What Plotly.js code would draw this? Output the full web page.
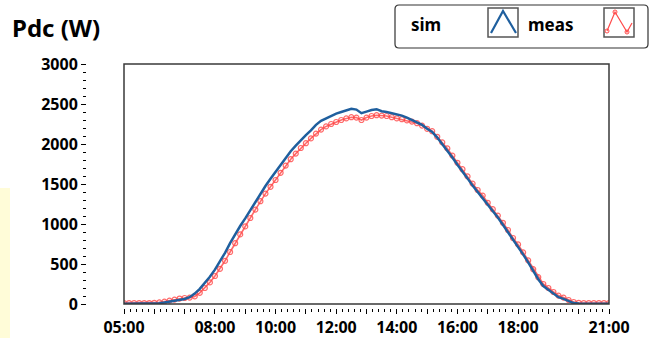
<!DOCTYPE html>
<html>
<head>
<meta charset="utf-8">
<script src="https://cdn.plot.ly/plotly-3.0.1.min.js"></script>
<style>html,body{margin:0;padding:0;background:#fff;}#chart{width:655px;height:338px;}</style>
</head>
<body>
<div id="chart"></div>
<script>
// ---- data (10-minute samples, 05:00 .. 21:00) ----
var startTime = "2024-01-01 05:00:00";
var stepMinutes = 10;

var simPdc = [
  2, 2, 2, 2, 2, 2,
  5, 10, 18, 28, 40, 52,
  62, 85, 130, 190, 260, 340,
  430, 530, 640, 760, 870, 975,
  1070, 1175, 1280, 1385, 1475, 1565,
  1650, 1740, 1830, 1910, 1980, 2050,
  2110, 2170, 2240, 2290, 2320, 2355,
  2380, 2400, 2425, 2440, 2430, 2385,
  2405, 2425, 2435, 2410, 2400, 2385,
  2370, 2355, 2330, 2300, 2275, 2240,
  2190, 2150, 2080, 2000, 1925, 1830,
  1740, 1660, 1570, 1480, 1400, 1330,
  1240, 1160, 1080, 990, 900, 800,
  720, 620, 520, 410, 310, 225,
  180, 130, 85, 65, 40, 12,
  5, 2, 2, 2, 2, 2,
  2
];

var measPdc = [
  12, 12, 12, 12, 12, 12,
  15, 20, 30, 42, 55, 68,
  75, 80, 95, 140, 200, 270,
  350, 440, 540, 650, 760, 870,
  970, 1075, 1180, 1285, 1380, 1465,
  1550, 1640, 1730, 1810, 1880, 1950,
  2010, 2070, 2130, 2180, 2220, 2250,
  2275, 2300, 2320, 2335, 2330, 2300,
  2330, 2350, 2360, 2355, 2350, 2335,
  2320, 2310, 2295, 2280, 2260, 2230,
  2190, 2160, 2090, 2020, 1945, 1855,
  1765, 1685, 1595, 1505, 1425, 1355,
  1265, 1185, 1105, 1015, 925, 825,
  745, 645, 545, 435, 335, 250,
  200, 150, 105, 80, 50, 25,
  15, 12, 12, 12, 12, 12,
  12
];

var hourTicks = ["05:00","06:00","07:00","08:00","09:00","10:00","11:00","12:00","13:00",
                 "14:00","15:00","16:00","17:00","18:00","19:00","20:00","21:00"];
var labeledHours = ["05:00","08:00","10:00","12:00","14:00","16:00","18:00","21:00"];
var yTickVals = [0, 500, 1000, 1500, 2000, 2500, 3000];

var seriesNames = ["sim", "meas"];
var titleText = "Pdc (W)";

// ---- build time axis ----
function pad(n){ return (n < 10 ? "0" : "") + n; }
var times = [];
var t0 = new Date(startTime.replace(" ", "T"));
for (var i = 0; i < simPdc.length; i++) {
  var d = new Date(t0.getTime() + i * stepMinutes * 60000);
  times.push("2024-01-01 " + pad(d.getHours()) + ":" + pad(d.getMinutes()) + ":00");
}
var tickVals = hourTicks.map(function(h){ return "2024-01-01 " + h + ":00"; });
var tickText = hourTicks.map(function(h){ return labeledHours.indexOf(h) >= 0 ? h : ""; });

// ---- layout geometry (pixels) ----
var L = 86, R = 46, T = 64, B = 30, WIDTH = 655, HEIGHT = 338;
var PW = WIDTH - L - R, PH = HEIGHT - T - B;
function PX(x){ return (x - L) / PW; }
function PY(y){ return (HEIGHT - B - y) / PH; }

var blue = "#1f5f9e";
var red = "#ff4a4a";
var font = "Noto Sans, Open Sans, sans-serif";

var traces = [
  {
    x: times, y: measPdc, name: seriesNames[1], type: "scatter", mode: "lines+markers",
    line: {color: "rgba(255,70,70,0.8)", width: 1.6},
    marker: {symbol: "circle-open", size: 5, color: "rgba(255,70,70,0.8)", line: {width: 1.2}},
    showlegend: false, hoverinfo: "skip"
  },
  {
    x: times, y: simPdc, name: seriesNames[0], type: "scatter", mode: "lines",
    line: {color: blue, width: 2.5},
    showlegend: false, hoverinfo: "skip"
  }
];

function roundRect(x0, y0, x1, y1, r) {
  var rx = r / PW, ry = r / PH;
  var a = PX(x0), b = PX(x1), c = PY(y0), d = PY(y1); // c top, d bottom
  return "M" + (a + rx) + "," + c +
    " L" + (b - rx) + "," + c + " Q" + b + "," + c + " " + b + "," + (c - ry) +
    " L" + b + "," + (d + ry) + " Q" + b + "," + d + " " + (b - rx) + "," + d +
    " L" + (a + rx) + "," + d + " Q" + a + "," + d + " " + a + "," + (d + ry) +
    " L" + a + "," + (c - ry) + " Q" + a + "," + c + " " + (a + rx) + "," + c + " Z";
}
function polyPath(pts) {
  return pts.map(function(p, i){ return (i ? "L" : "M") + PX(p[0]) + "," + PY(p[1]); }).join(" ");
}

var shapes = [
  // pale yellow strip at left edge
  {type: "rect", xref: "paper", yref: "paper", x0: PX(0), x1: PX(10), y0: PY(338), y1: PY(188),
   fillcolor: "#fffcd8", line: {width: 0}, layer: "below"},
  // plot frame
  {type: "rect", xref: "x domain", yref: "y domain", x0: 0, x1: 1, y0: 0, y1: 1,
   line: {color: "#3a3a3a", width: 1.5}, layer: "above"},
  // legend box
  {type: "path", xref: "paper", yref: "paper", path: roundRect(395, 5, 648, 48, 4),
   line: {color: "#333", width: 1.2}, fillcolor: "#fff"},
  // sim icon box
  {type: "rect", xref: "paper", yref: "paper", x0: PX(488), x1: PX(518), y0: PY(37), y1: PY(8),
   line: {color: "#555", width: 1.5}, fillcolor: "#fff"},
  {type: "path", xref: "paper", yref: "paper", path: polyPath([[491, 33], [503, 11], [516, 33]]),
   line: {color: blue, width: 2.2}},
  // meas icon box
  {type: "rect", xref: "paper", yref: "paper", x0: PX(604), x1: PX(634), y0: PY(37), y1: PY(8),
   line: {color: "#555", width: 1.5}, fillcolor: "#fff"},
  {type: "path", xref: "paper", yref: "paper", path: polyPath([[607, 31], [615, 12], [627, 32], [632, 23]]),
   line: {color: red, width: 1.2}}
];
[[607, 31], [615, 12], [627, 32]].forEach(function(p){
  shapes.push({type: "circle", xref: "paper", yref: "paper",
    x0: PX(p[0] - 2), x1: PX(p[0] + 2), y0: PY(p[1] + 2), y1: PY(p[1] - 2),
    line: {color: red, width: 1}});
});

var annotations = [
  {xref: "paper", yref: "paper", x: PX(10), y: PY(27), xanchor: "left", yanchor: "middle",
   text: titleText, showarrow: false, font: {family: font, size: 24, color: "#000", weight: "bold"}},
  {xref: "paper", yref: "paper", x: PX(409), y: PY(24), xanchor: "left", yanchor: "middle",
   text: seriesNames[0], showarrow: false, font: {family: font, size: 17, color: "#000", weight: "bold"}},
  {xref: "paper", yref: "paper", x: PX(526), y: PY(24), xanchor: "left", yanchor: "middle",
   text: seriesNames[1], showarrow: false, font: {family: font, size: 17, color: "#000", weight: "bold"}}
];

var layout = {
  width: WIDTH, height: HEIGHT,
  margin: {l: L, r: R, t: T, b: B, pad: 0},
  paper_bgcolor: "#fff", plot_bgcolor: "rgba(0,0,0,0)",
  showlegend: false,
  xaxis: {
    type: "date", domain: [PX(124), 1], anchor: "free", position: 0,
    range: ["2024-01-01 05:00:00", "2024-01-01 21:00:00"],
    tickmode: "array", tickvals: tickVals, ticktext: tickText,
    ticks: "outside", ticklen: 5, tickwidth: 1, tickcolor: "#000",
    minor: {dtick: 12 * 60000, tick0: "2024-01-01 05:00:00", ticks: "outside", ticklen: 3, tickwidth: 1, tickcolor: "#000", showgrid: false},
    showline: false, showgrid: false, zeroline: false,
    tickfont: {family: font, size: 16, color: "#000", weight: "bold"}
  },
  yaxis: {
    domain: [PY(304), 1], anchor: "free", position: 0,
    range: [0, 3000],
    tickmode: "array", tickvals: yTickVals,
    ticks: "outside", ticklen: 5, tickwidth: 1, tickcolor: "#000",
    minor: {dtick: 100, ticks: "outside", ticklen: 3, tickwidth: 1, tickcolor: "#000", showgrid: false},
    showline: false, showgrid: false, zeroline: false,
    tickfont: {family: font, size: 16, color: "#000", weight: "bold"}
  },
  shapes: shapes,
  annotations: annotations
};

Plotly.newPlot("chart", traces, layout, {displayModeBar: false, staticPlot: true});
</script>
</body>
</html>
